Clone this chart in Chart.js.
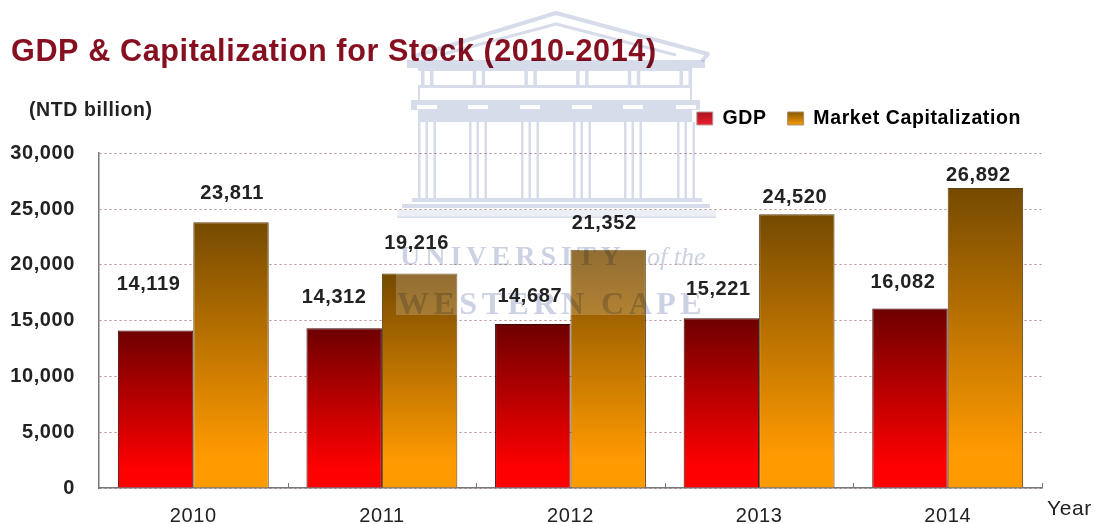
<!DOCTYPE html>
<html>
<head>
<meta charset="utf-8">
<title>GDP & Capitalization for Stock</title>
<script src="https://cdn.jsdelivr.net/npm/chart.js@4"></script>
<style>
  body { margin: 0; background: #fff; }
  canvas { display: block; }
</style>
</head>
<body>
<canvas id="stockChart" width="1095" height="524"></canvas>
<script>
const years = ['2010', '2011', '2012', '2013', '2014'];
const gdp = [14119, 14312, 14687, 15221, 16082];
const marketCap = [23811, 19216, 21352, 24520, 26892];
const yTicks = [0, 5000, 10000, 15000, 20000, 25000, 30000];

// the value labels sit at uneven distances from the bars in the original
const gdpNudge = [[-7, -46], [-10, -31], [-3, -28], [-3, -29], [-7, -26]];
const capNudge = [[1, -29], [-3, -30], [-4, -26], [-2, -17], [-7, -12]];

const FONT = '"Liberation Sans", Arial, sans-serif';
const SERIF = '"Liberation Serif", "Times New Roman", serif';
const fmt = v => v.toLocaleString('en-US');

function barFill(dark, bright) {
  return function(context) {
    const chart = context.chart;
    if (context.raw === undefined || !chart.chartArea) return bright;
    const y = chart.scales.y;
    const g = chart.ctx.createLinearGradient(0, y.getPixelForValue(context.raw), 0, y.getPixelForValue(0));
    g.addColorStop(0, dark);
    g.addColorStop(0.88, bright);
    g.addColorStop(1, bright);
    return g;
  };
}

function swatch(ctx, dark, bright) {
  const g = ctx.createLinearGradient(0, 112, 0, 125);
  g.addColorStop(0, dark);
  g.addColorStop(1, bright);
  return g;
}

// university stamp that lies over the scanned chart
function drawStamp(ctx) {
  const pale = '#d6dcea';
  ctx.save();
  ctx.fillStyle = 'rgba(255,255,255,0.2)';
  ctx.fillRect(396, 219, 320, 96);
  ctx.globalCompositeOperation = 'multiply';
  ctx.fillStyle = pale;
  ctx.strokeStyle = pale;

  // pediment
  ctx.lineWidth = 4;
  ctx.lineJoin = 'round';
  ctx.beginPath();
  ctx.moveTo(412, 57); ctx.lineTo(556, 13); ctx.lineTo(708, 54); ctx.lineTo(702, 61);
  ctx.stroke();
  ctx.lineWidth = 3;
  ctx.beginPath();
  ctx.moveTo(440, 55); ctx.lineTo(556, 24); ctx.lineTo(676, 55);
  ctx.stroke();

  // everything square goes in one path so overlaps do not darken
  ctx.beginPath();
  ctx.rect(407, 60, 298, 8);
  ctx.rect(418, 68, 274, 3);
  ctx.rect(418, 85, 274, 3);
  for (let i = 0; i < 6; i++) {
    const fx = 421 + i * 51.7;
    ctx.rect(fx, 71, 3.5, 14);
    ctx.rect(fx + 9, 71, 3.5, 14);
  }
  ctx.rect(418, 88, 2, 12);
  ctx.rect(690, 88, 2, 12);
  ctx.rect(411, 100, 289, 10);
  ctx.rect(418, 110, 274, 12);
  const colX = [427, 478, 530, 582, 633, 686];
  colX.forEach(x => {
    ctx.rect(x - 9, 122, 2.5, 76);
    ctx.rect(x - 1.5, 122, 2.5, 76);
    ctx.rect(x + 6.5, 122, 2.5, 76);
  });
  ctx.rect(412, 198, 290, 4);
  ctx.rect(402, 204, 308, 4);
  ctx.rect(397, 216.5, 319, 1.5);
  ctx.fill();

  ctx.globalAlpha = 0.45;
  ctx.fillRect(397, 210, 319, 6.5);
  ctx.globalAlpha = 1;

  // white capitals cut into the beam
  ctx.globalCompositeOperation = 'source-over';
  ctx.fillStyle = '#fff';
  colX.forEach(x => ctx.fillRect(x - 10, 105, 20, 4));
  ctx.globalCompositeOperation = 'multiply';

  // lettering
  ctx.textBaseline = 'alphabetic';
  ctx.textAlign = 'left';
  ctx.fillStyle = '#ccd2e3';
  ctx.font = 'bold 28px ' + SERIF;
  ctx.letterSpacing = '5px';
  ctx.fillText('UNIVERSITY', 400, 265);
  ctx.letterSpacing = '0px';
  ctx.font = 'italic 26px ' + SERIF;
  ctx.fillText('of the', 647, 265);
  ctx.font = 'bold 32px ' + SERIF;
  ctx.letterSpacing = '4.5px';
  ctx.fillText('WESTERN CAPE', 397, 314);
  ctx.restore();
}

const scanPlugin = {
  id: 'scan',
  beforeInit(chart) {
    const fit = chart.legend.fit;
    chart.legend.fit = function() {
      fit.call(this);
      this.height += 15;
    };
  },
  // the original type is slightly stretched sideways
  beforeUpdate(chart) { chart.ctx.letterSpacing = '0.6px'; },
  beforeDraw(chart) { chart.ctx.letterSpacing = '0.6px'; },
  afterDatasetsDraw(chart) {
    const ctx = chart.ctx;
    const x = chart.scales.x;
    const area = chart.chartArea;

    // short ticks rise into the plot between categories
    ctx.save();
    ctx.strokeStyle = '#777';
    ctx.lineWidth = 1;
    const step = area.width / years.length;
    years.forEach((year, i) => {
      const tx = Math.round(x.getPixelForValue(i) + step / 2) + 0.5;
      ctx.beginPath();
      ctx.moveTo(tx, area.bottom);
      ctx.lineTo(tx, area.bottom - 5);
      ctx.stroke();
    });
    ctx.restore();

    drawStamp(ctx);

    ctx.save();
    ctx.font = 'bold 20px ' + FONT;
    ctx.fillStyle = '#222';
    ctx.textAlign = 'center';
    ctx.textBaseline = 'middle';
    chart.data.datasets.forEach((set, d) => {
      const nudge = d === 0 ? gdpNudge : capNudge;
      chart.getDatasetMeta(d).data.forEach((bar, i) => {
        ctx.fillText(fmt(set.data[i]), bar.x + nudge[i][0], bar.y + nudge[i][1]);
      });
    });

    ctx.textAlign = 'left';
    ctx.font = 'bold 19.5px ' + FONT;
    ctx.fillText('(NTD billion)', 29, 111);
    ctx.font = '21px ' + FONT;
    ctx.fillText('Year', 1047, 509);
    ctx.restore();
  }
};

new Chart(document.getElementById('stockChart'), {
  type: 'bar',
  data: {
    labels: years,
    datasets: [{
      label: 'GDP',
      data: gdp,
      backgroundColor: barFill('#6e0000', '#ff0000'),
      borderColor: '#3a0808',
      borderWidth: 1
    }, {
      label: 'Market Capitalization',
      data: marketCap,
      backgroundColor: barFill('#754a00', '#ff9a00'),
      borderColor: '#5e3f14',
      borderWidth: 1
    }]
  },
  options: {
    responsive: false,
    animation: false,
    layout: { padding: { left: 11, right: 53, top: 0, bottom: 0 } },
    datasets: { bar: { barPercentage: 1, categoryPercentage: 0.8 } },
    plugins: {
      tooltip: { enabled: false },
      title: {
        display: true,
        text: 'GDP & Capitalization for Stock (2010-2014)',
        align: 'start',
        color: '#86101f',
        font: { family: FONT, size: 30.6, weight: 'bold' },
        padding: { top: 34, bottom: 17 }
      },
      legend: {
        position: 'top',
        align: 'end',
        labels: {
          color: '#1a1f2b',
          font: { family: FONT, size: 19.5, weight: 'bold' },
          boxWidth: 16,
          boxHeight: 13,
          padding: 21,
          generateLabels(chart) {
            return [
              { text: 'GDP', fillStyle: swatch(chart.ctx, '#a8141e', '#ee2030'), strokeStyle: '#b9a0a0', lineWidth: 1, datasetIndex: 0 },
              { text: 'Market Capitalization', fillStyle: swatch(chart.ctx, '#8a5800', '#f59a00'), strokeStyle: '#a89070', lineWidth: 1, datasetIndex: 1 }
            ];
          }
        }
      }
    },
    scales: {
      x: {
        grid: { display: false },
        border: { color: '#777', width: 1.5 },
        ticks: { color: '#222', font: { family: FONT, size: 20 }, padding: 8, maxRotation: 0 },
        afterFit(scale) { scale.height = 36; }
      },
      y: {
        min: 0,
        max: 30000,
        afterBuildTicks(scale) { scale.ticks = yTicks.map(v => ({ value: v })); },
        grid: { color: '#b98a8a', lineWidth: 1, drawTicks: false },
        border: { color: '#777', width: 1.5, dash: [2, 3] },
        ticks: { color: '#222', font: { family: FONT, size: 20, weight: 'bold' }, padding: 24, callback: fmt },
        afterFit(scale) { scale.width = 88; }
      }
    }
  },
  plugins: [scanPlugin]
});
</script>
</body>
</html>
